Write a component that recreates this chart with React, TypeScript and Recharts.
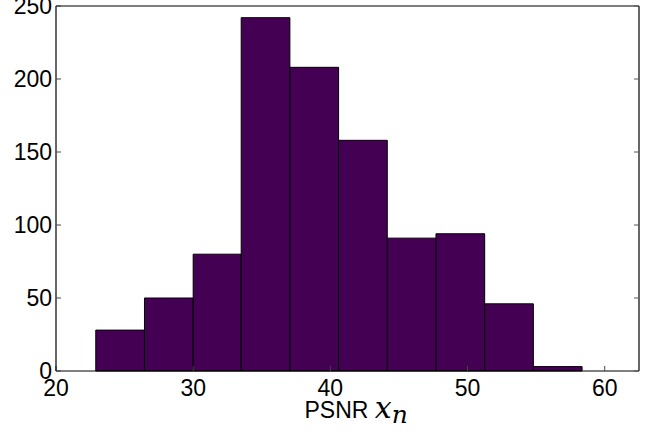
import React from "react";
import { ComposedChart, XAxis, YAxis, ReferenceArea } from "recharts";

// histogram bin edges (PSNR)
const binStarts = [22.9, 26.45, 30.0, 33.5, 37.05, 40.6, 44.15, 47.7, 51.25, 54.8];
const binEnds = [26.45, 30.0, 33.5, 37.05, 40.6, 44.15, 47.7, 51.25, 54.8, 58.35];
const counts = [28, 50, 80, 242, 208, 158, 91, 94, 46, 3];

const xTicks = [20, 30, 40, 50, 60];
const yTicks = [0, 50, 100, 150, 200, 250];
const xDomain = [20, 62.5];
const yDomain = [0, 250];

const data = counts.map((c, i) => ({ x0: binStarts[i], x1: binEnds[i], count: c }));

const FONT = "'Liberation Sans', Arial, Helvetica, sans-serif";
const BAR_FILL = "#440154";

const XLabel = (props: any) => {
  const vb = props.viewBox || {};
  const cx = vb.x + vb.width / 2;
  return (
    <text x={cx - 43} y={vb.y + 47} fill="#000" style={{ fontFamily: FONT, fontSize: 23 }}>
      <tspan>PSNR </tspan>
      <tspan style={{ fontFamily: "'DejaVu Serif', serif", fontStyle: "italic", fontSize: 30 }}>x</tspan>
      <tspan dy={5} style={{ fontFamily: "'DejaVu Serif', serif", fontStyle: "italic", fontSize: 25 }}>n</tspan>
    </text>
  );
};

const NoTick = () => <g />;

export default function App() {
  const tickStyle = { fontFamily: FONT, fontSize: 23, fill: "#000" };
  return (
    <div style={{ position: "absolute", left: 0, top: 0, width: 650, height: 432, background: "#fff" }}>
      <ComposedChart
        width={650}
        height={432}
        data={data}
        margin={{ top: 5, right: 10, bottom: 0, left: 6 }}
      >
        <XAxis
          xAxisId={0}
          type="number"
          dataKey="x0"
          domain={xDomain}
          ticks={xTicks}
          interval={0}
          allowDataOverflow
          height={61}
          tickSize={-5}
          tickMargin={14}
          tick={tickStyle}
          axisLine={{ stroke: "#000", strokeWidth: 1.2 }}
          tickLine={{ stroke: "#444" }}
          label={<XLabel />}
        />
        <XAxis
          xAxisId="top"
          orientation="top"
          type="number"
          domain={xDomain}
          ticks={xTicks}
          interval={0}
          allowDataOverflow
          height={1}
          tickSize={-5}
          tick={<NoTick />}
          axisLine={{ stroke: "#000", strokeWidth: 1.2 }}
          tickLine={{ stroke: "#555" }}
        />
        <YAxis
          yAxisId={0}
          type="number"
          domain={yDomain}
          ticks={yTicks}
          interval={0}
          allowDataOverflow
          width={50}
          tickSize={-5}
          tickMargin={9}
          tick={tickStyle}
          axisLine={{ stroke: "#000", strokeWidth: 1.2 }}
          tickLine={{ stroke: "#444" }}
        />
        <YAxis
          yAxisId="right"
          orientation="right"
          type="number"
          domain={yDomain}
          ticks={yTicks}
          interval={0}
          allowDataOverflow
          width={1}
          tickSize={-5}
          tick={<NoTick />}
          axisLine={{ stroke: "#000", strokeWidth: 1.2 }}
          tickLine={{ stroke: "#555" }}
        />
        {data.map((d, i) => (
          <ReferenceArea
            key={i}
            xAxisId={0}
            yAxisId={0}
            x1={d.x0}
            x2={d.x1}
            y1={0}
            y2={d.count}
            fill={BAR_FILL}
            fillOpacity={1}
            stroke="#000"
            strokeWidth={1}
            strokeOpacity={1}
            ifOverflow="extendDomain"
          />
        ))}
      </ComposedChart>
    </div>
  );
}
